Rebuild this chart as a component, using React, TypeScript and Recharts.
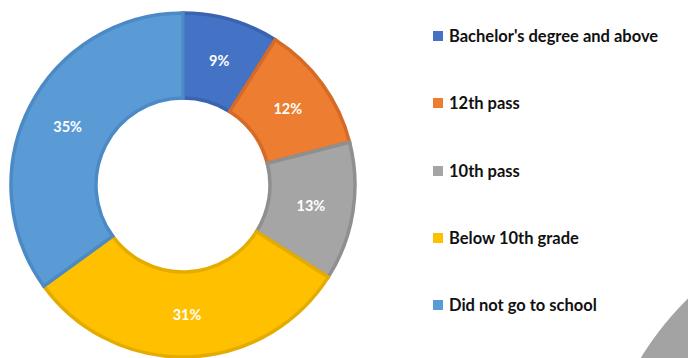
import { PieChart, Pie, Cell, Legend } from "recharts";

const categories = [
  "Bachelor's degree and above",
  "12th pass",
  "10th pass",
  "Below 10th grade",
  "Did not go to school",
];
const shares = [9, 12, 13, 31, 35];

const COLORS = ["#4472C4", "#ED7D31", "#A5A5A5", "#FFC000", "#5B9BD5"];
const BORDERS = ["#3B64B0", "#D46B26", "#8F8F8F", "#E5AC00", "#4C8AC6"];

// slice of the neighbouring chart that peeks in at the bottom right
const neighbourSlice = [{ name: "other", value: 1 }];

const data = categories.map((name, i) => ({ name, value: shares[i] }));

const RADIAN = Math.PI / 180;

const renderLabel = (props: any) => {
  const { cx, cy, midAngle, innerRadius, outerRadius, value } = props;
  const r = (innerRadius + outerRadius) / 2;
  const x = cx + r * Math.cos(-midAngle * RADIAN);
  const y = cy + r * Math.sin(-midAngle * RADIAN);
  return (
    <text
      x={x}
      y={y}
      fill="#ffffff"
      textAnchor="middle"
      dominantBaseline="central"
      style={{ fontFamily: "Lato, sans-serif", fontWeight: 700, fontSize: "14.5px" }}
    >
      {value}%
    </text>
  );
};

const renderLegend = () => (
  <div style={{ fontFamily: "Lato, sans-serif" }}>
    {categories.map((name, i) => (
      <div
        key={name}
        style={{
          display: "flex",
          alignItems: "center",
          height: "20px",
          marginBottom: i < categories.length - 1 ? "47.3px" : 0,
        }}
      >
        <span
          style={{
            width: "10px",
            height: "10px",
            backgroundColor: COLORS[i],
            display: "inline-block",
            marginRight: "6px",
          }}
        />
        <span
          style={{
            fontSize: "16.5px",
            fontWeight: 700,
            color: "#111",
            whiteSpace: "nowrap",
          }}
        >
          {name}
        </span>
      </div>
    ))}
  </div>
);

export default function App() {
  return (
    <div style={{ width: 688, height: 358, overflow: "hidden", background: "#fff" }}>
      <style>{`body{margin:0}`}</style>
      <PieChart width={688} height={358} margin={{ top: 0, right: 0, bottom: 0, left: 0 }}>
        <Pie
          data={neighbourSlice}
          dataKey="value"
          cx={905}
          cy={520}
          outerRadius={310}
          innerRadius={0}
          stroke="none"
          isAnimationActive={false}
          legendType="none"
        >
          <Cell fill="#A3A3A3" />
        </Pie>
        <Pie
          data={data}
          dataKey="value"
          cx={183}
          cy={185}
          innerRadius={87}
          outerRadius={172}
          startAngle={90}
          endAngle={-270}
          label={renderLabel}
          labelLine={false}
          isAnimationActive={false}
        >
          {data.map((d, i) => (
            <Cell key={d.name} fill={COLORS[i]} stroke={BORDERS[i]} strokeWidth={3.5} />
          ))}
        </Pie>
        <Legend
          layout="vertical"
          content={renderLegend}
          wrapperStyle={{ position: "absolute", left: 433, top: 26, width: 255 }}
        />
      </PieChart>
    </div>
  );
}
